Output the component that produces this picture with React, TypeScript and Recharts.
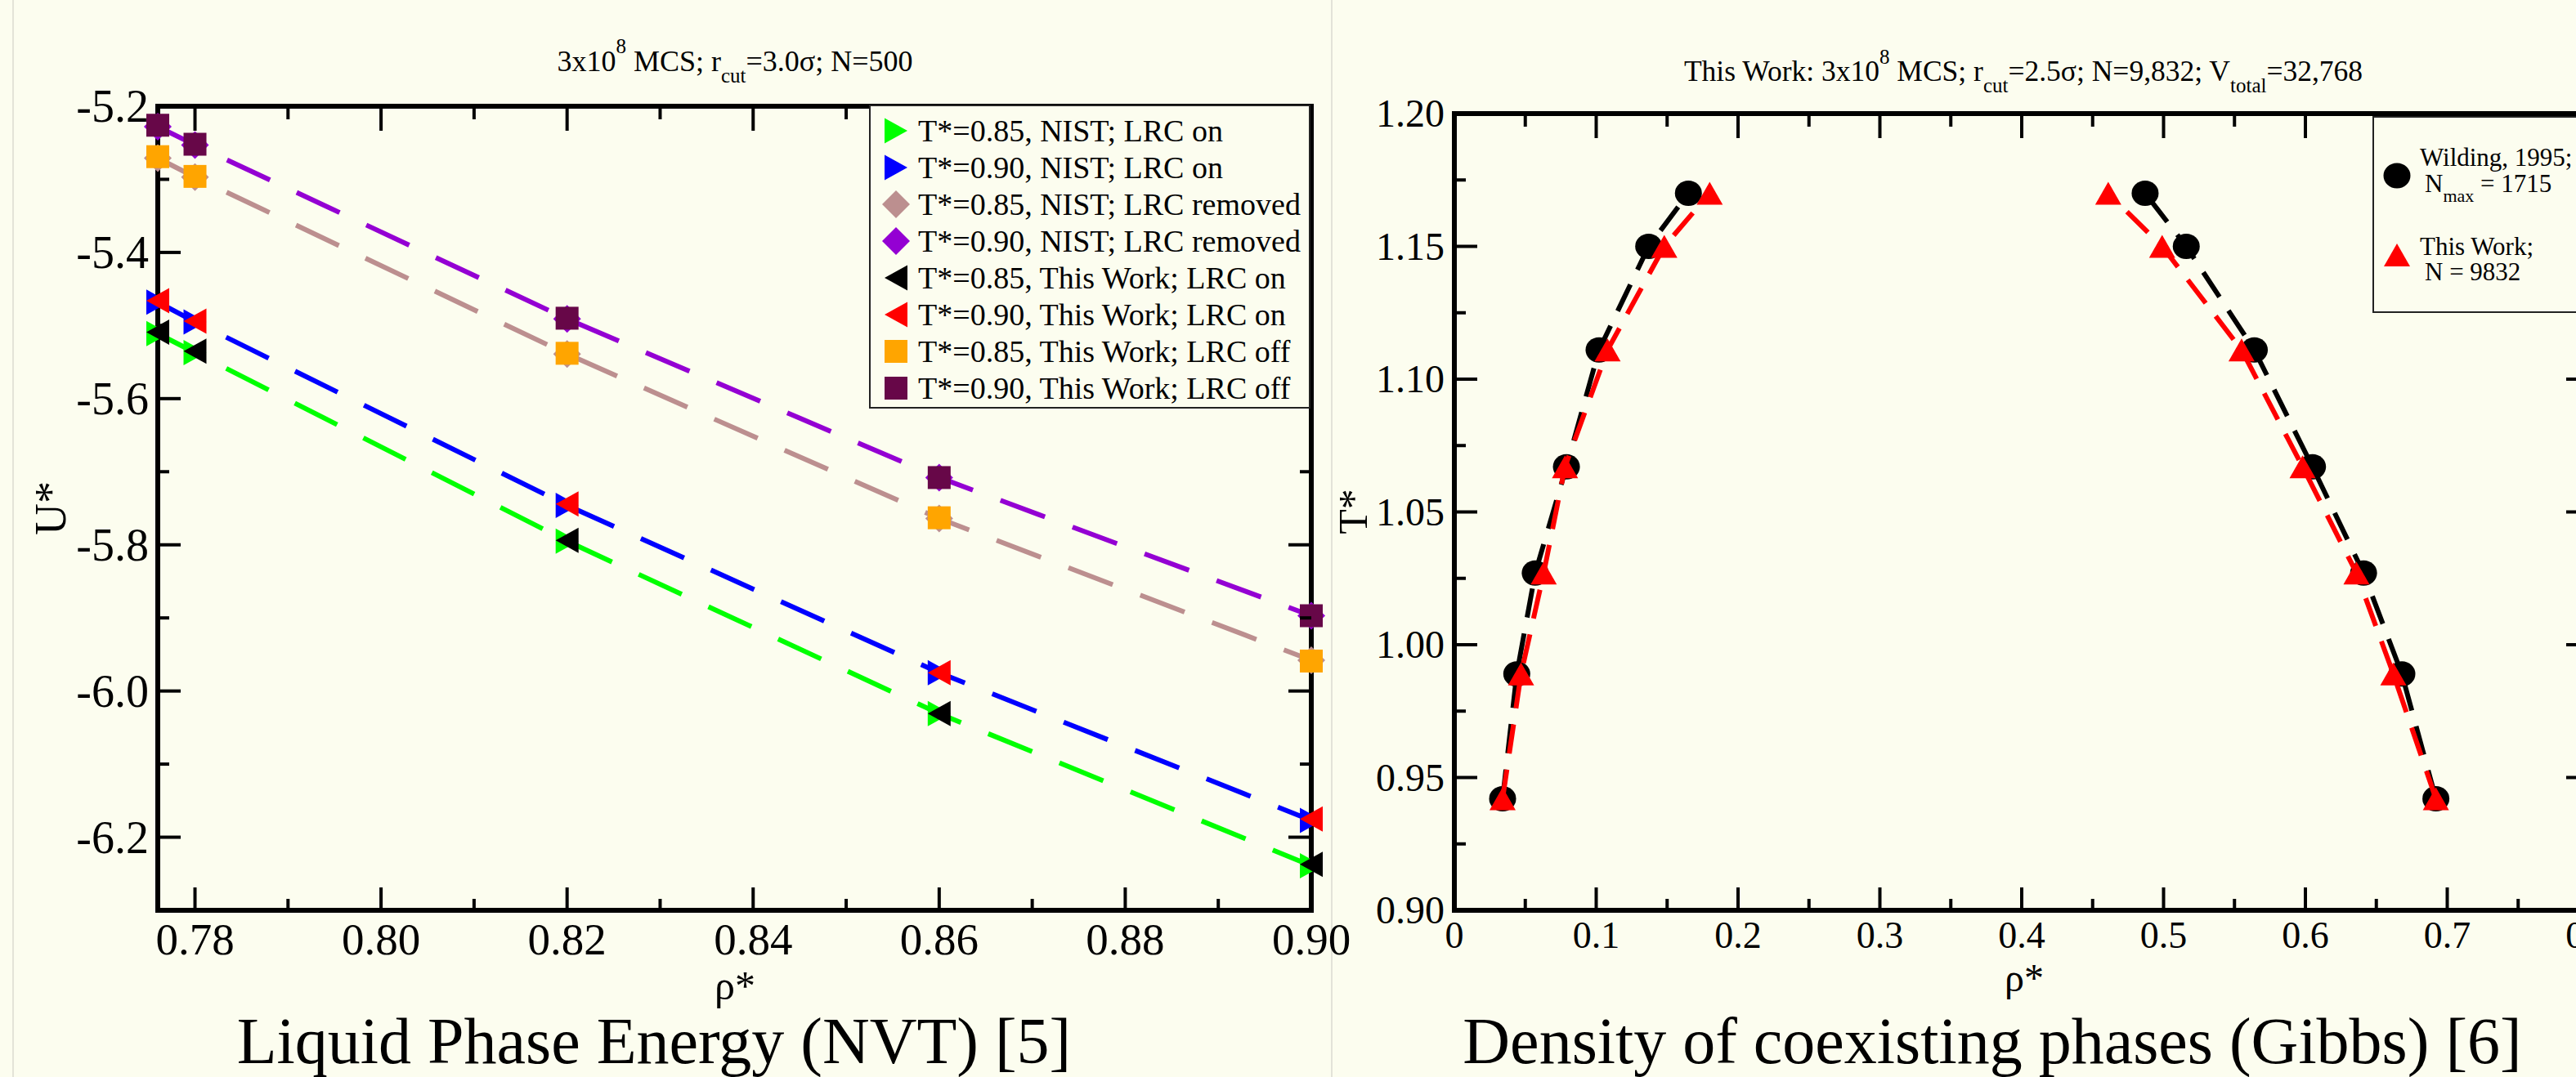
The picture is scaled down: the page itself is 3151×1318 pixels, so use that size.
import React from 'react';
import { ScatterChart, Scatter, XAxis, YAxis, ReferenceArea, Legend } from 'recharts';

const BG = '#fcfdef';
const FONT = '"Liberation Serif", "Times New Roman", serif';

// ---- Liquid phase energy (NVT) ----
const rhoNvt = [0.776, 0.78, 0.82, 0.86, 0.9];
const uNist085On = [-5.511, -5.537, -5.795, -6.031, -6.239];
const uNist090On = [-5.468, -5.495, -5.746, -5.975, -6.177];
const uNist085Removed = [-5.271, -5.297, -5.539, -5.764, -5.958];
const uNist090Removed = [-5.228, -5.253, -5.491, -5.708, -5.897];
const uWork085On = [-5.509, -5.535, -5.794, -6.031, -6.237];
const uWork090On = [-5.466, -5.494, -5.744, -5.975, -6.175];
const uWork085Off = [-5.269, -5.296, -5.538, -5.763, -5.959];
const uWork090Off = [-5.226, -5.252, -5.490, -5.708, -5.897];

const nvtXMajor = [0.78, 0.8, 0.82, 0.84, 0.86, 0.88, 0.9];
const nvtXMinor = [0.79, 0.81, 0.83, 0.85, 0.87, 0.89];
const nvtYMajor = [-6.2, -6.0, -5.8, -5.6, -5.4, -5.2];
const nvtYMinor = [-6.1, -5.9, -5.7, -5.5, -5.3];

// ---- Gibbs coexistence ----
const tGibbs = [0.942, 0.989, 1.027, 1.067, 1.111, 1.15, 1.17];
const rhoVapWilding = [0.034, 0.044, 0.057, 0.079, 0.102, 0.137, 0.165];
const rhoLiqWilding = [0.692, 0.668, 0.641, 0.605, 0.564, 0.516, 0.487];
const rhoVapWork = [0.034, 0.047, 0.063, 0.078, 0.108, 0.148, 0.18];
const rhoLiqWork = [0.692, 0.662, 0.636, 0.598, 0.555, 0.499, 0.461];

const gibbsXMajor = [0, 0.1, 0.2, 0.3, 0.4, 0.5, 0.6, 0.7, 0.8];
const gibbsXMinor = [0.05, 0.15, 0.25, 0.35, 0.45, 0.55, 0.65, 0.75];
const gibbsYMajor = [0.9, 0.95, 1.0, 1.05, 1.1, 1.15, 1.2];
const gibbsYMinor = [0.925, 0.975, 1.025, 1.075, 1.125, 1.175];

type Kind = 'triRight' | 'triLeft' | 'triUp' | 'diamond' | 'square' | 'circle';

const Marker = ({ kind, cx, cy, color }: { kind: Kind; cx: number; cy: number; color: string }) => {
  if (cx == null || cy == null) return <g />;
  switch (kind) {
    case 'triRight': {
      const w = 28, h = 31;
      return <polygon points={`${cx - w / 2},${cy - h / 2} ${cx + w / 2},${cy} ${cx - w / 2},${cy + h / 2}`} fill={color} />;
    }
    case 'triLeft': {
      const w = 28, h = 31;
      return <polygon points={`${cx + w / 2},${cy - h / 2} ${cx - w / 2},${cy} ${cx + w / 2},${cy + h / 2}`} fill={color} />;
    }
    case 'triUp': {
      const w = 32, h = 28;
      return <polygon points={`${cx - w / 2},${cy + h / 2} ${cx},${cy - h / 2} ${cx + w / 2},${cy + h / 2}`} fill={color} />;
    }
    case 'diamond': {
      const r = 17;
      return <polygon points={`${cx},${cy - r} ${cx + r},${cy} ${cx},${cy + r} ${cx - r},${cy}`} fill={color} />;
    }
    case 'square':
      return <rect x={cx - 14} y={cy - 14} width={28} height={28} fill={color} />;
    default:
      return <ellipse cx={cx} cy={cy} rx={16.5} ry={15.5} fill={color} />;
  }
};

const near = (list: number[], v: number) => list.some((m) => Math.abs(m - v) < 1e-9);

// ticks point inwards, mirrored on the opposite side of the frame
const makeXTick = (majors: number[], plotH: number, fontSize: number, gap: number, fmt: (v: number) => string) =>
  (props: any) => {
    const { x, y, payload } = props;
    const major = near(majors, payload.value);
    const len = major ? 28 : 14;
    return (
      <g>
        <line x1={x} y1={y} x2={x} y2={y - len} stroke="#000" strokeWidth={4} />
        <line x1={x} y1={y - plotH} x2={x} y2={y - plotH + len + 2} stroke="#000" strokeWidth={4} />
        {major && (
          <text x={x} y={y + gap} textAnchor="middle" fontSize={fontSize} fontFamily={FONT} fill="#000">
            {fmt(payload.value)}
          </text>
        )}
      </g>
    );
  };

const makeYTick = (majors: number[], plotW: number, fontSize: number, gap: number, fmt: (v: number) => string) =>
  (props: any) => {
    const { x, y, payload } = props;
    const major = near(majors, payload.value);
    const len = major ? 28 : 14;
    return (
      <g>
        <line x1={x} y1={y} x2={x + len} y2={y} stroke="#000" strokeWidth={4} />
        <line x1={x + plotW} y1={y} x2={x + plotW - len} y2={y} stroke="#000" strokeWidth={4} />
        {major && (
          <text x={x - gap} y={y + fontSize * 0.34} textAnchor="end" fontSize={fontSize} fontFamily={FONT} fill="#000">
            {fmt(payload.value)}
          </text>
        )}
      </g>
    );
  };

const nvtSeries: { name: string; ys: number[]; kind: Kind; color: string; dashed: boolean }[] = [
  { name: 'T*=0.85, NIST; LRC on', ys: uNist085On, kind: 'triRight', color: '#00ff00', dashed: true },
  { name: 'T*=0.90, NIST; LRC on', ys: uNist090On, kind: 'triRight', color: '#0000ff', dashed: true },
  { name: 'T*=0.85, NIST; LRC removed', ys: uNist085Removed, kind: 'diamond', color: '#bc8f8f', dashed: true },
  { name: 'T*=0.90, NIST; LRC removed', ys: uNist090Removed, kind: 'diamond', color: '#9400d3', dashed: true },
  { name: 'T*=0.85, This Work; LRC on', ys: uWork085On, kind: 'triLeft', color: '#000000', dashed: false },
  { name: 'T*=0.90, This Work; LRC on', ys: uWork090On, kind: 'triLeft', color: '#ff0000', dashed: false },
  { name: 'T*=0.85, This Work; LRC off', ys: uWork085Off, kind: 'square', color: '#ffa500', dashed: false },
  { name: 'T*=0.90, This Work; LRC off', ys: uWork090Off, kind: 'square', color: '#670748', dashed: false },
];

const gibbsSeries: { name: string; xs: number[]; kind: Kind; color: string }[] = [
  { name: 'Wilding vapour', xs: rhoVapWilding, kind: 'circle', color: '#000000' },
  { name: 'Wilding liquid', xs: rhoLiqWilding, kind: 'circle', color: '#000000' },
  { name: 'This Work vapour', xs: rhoVapWork, kind: 'triUp', color: '#ff0000' },
  { name: 'This Work liquid', xs: rhoLiqWork, kind: 'triUp', color: '#ff0000' },
];

// left chart geometry
const L_W = 1700, L_H = 1318, L_TOP = 130, L_YW = 193, L_XH = 204, L_RIGHT = 96;
const L_PW = L_W - L_YW - L_RIGHT;
const L_PH = L_H - L_TOP - L_XH;

// right chart geometry (runs past the page edge, like the slide)
const R_LEFT = 1640, R_W = 1557, R_H = 1318, R_TOP = 139, R_YW = 139, R_XH = 204, R_RIGHT = 30;
const R_PW = R_W - R_YW - R_RIGHT;
const R_PH = R_H - R_TOP - R_XH;

const NvtLegend = () => (
  <svg width={540} height={372} style={{ display: 'block' }}>
    <rect x={1} y={1} width={538} height={370} fill={BG} stroke="#222" strokeWidth={2} />
    {nvtSeries.map((s, i) => (
      <g key={s.name}>
        <Marker kind={s.kind} cx={33} cy={32 + 45 * i} color={s.color} />
        <text x={60} y={32 + 45 * i + 13} fontSize={38} fontFamily={FONT} fill="#000">{s.name}</text>
      </g>
    ))}
  </svg>
);

const GibbsLegend = () => (
  <svg width={265} height={241} style={{ display: 'block' }}>
    <rect x={1} y={1} width={270} height={239} fill={BG} stroke="#222" strokeWidth={2} />
    <Marker kind="circle" cx={30} cy={73} color="#000" />
    <text x={58} y={61} fontSize={31} fontFamily={FONT} fill="#000">Wilding, 1995;</text>
    <text x={64} y={93} fontSize={31} fontFamily={FONT} fill="#000">
      N<tspan dy={12} fontSize={22}>max</tspan><tspan dy={-12}> = 1715</tspan>
    </text>
    <Marker kind="triUp" cx={30} cy={170} color="#ff0000" />
    <text x={58} y={170} fontSize={31} fontFamily={FONT} fill="#000">This Work;</text>
    <text x={64} y={201} fontSize={31} fontFamily={FONT} fill="#000">N = 9832</text>
  </svg>
);

const NvtChart = () => (
  <ScatterChart width={L_W} height={L_H} margin={{ top: L_TOP, right: L_RIGHT, bottom: 0, left: 0 }}>
    <XAxis
      type="number" dataKey="x" domain={[0.776, 0.9]} ticks={[...nvtXMajor, ...nvtXMinor].sort()}
      interval={0} height={L_XH} axisLine={false} tickLine={false} tickSize={0} tickMargin={0}
      tick={makeXTick(nvtXMajor, L_PH, 55, 54, (v) => v.toFixed(2))}
    />
    <YAxis
      type="number" dataKey="y" domain={[-6.3, -5.2]} ticks={[...nvtYMajor, ...nvtYMinor]}
      interval={0} width={L_YW} axisLine={false} tickLine={false} tickSize={0} tickMargin={0}
      tick={makeYTick(nvtYMajor, L_PW, 56, 11, (v) => v.toFixed(1))}
    />
    {nvtSeries.map((s) => (
      <Scatter
        key={s.name}
        name={s.name}
        data={rhoNvt.map((x, i) => ({ x, y: s.ys[i] }))}
        line={s.dashed ? { stroke: s.color, strokeWidth: 6, strokeDasharray: '58 36' } : false}
        lineType="joint"
        shape={(p: any) => <Marker kind={s.kind} cx={p.cx} cy={p.cy} color={s.color} />}
        isAnimationActive={false}
      />
    ))}
    <ReferenceArea x1={0.776} x2={0.9} y1={-6.3} y2={-5.2} fill="none" stroke="#000" strokeWidth={6} ifOverflow="visible" />
    <Legend
      layout="vertical" align="center" verticalAlign="middle"
      wrapperStyle={{ left: 1063, top: 128, width: 540, height: 372 }}
      content={() => <NvtLegend />}
    />
  </ScatterChart>
);

const GibbsChart = () => (
  <ScatterChart width={R_W} height={R_H} margin={{ top: R_TOP, right: R_RIGHT, bottom: 0, left: 0 }}>
    <XAxis
      type="number" dataKey="x" domain={[0, 0.8]} ticks={[...gibbsXMajor, ...gibbsXMinor]}
      interval={0} height={R_XH} axisLine={false} tickLine={false} tickSize={0} tickMargin={0}
      tick={makeXTick(gibbsXMajor, R_PH, 46, 46, (v) => (v === 0 ? '0' : v.toFixed(1)))}
    />
    <YAxis
      type="number" dataKey="y" domain={[0.9, 1.2]} ticks={[...gibbsYMajor, ...gibbsYMinor]}
      interval={0} width={R_YW} axisLine={false} tickLine={false} tickSize={0} tickMargin={0}
      tick={makeYTick(gibbsYMajor, R_PW, 48, 12, (v) => v.toFixed(2))}
    />
    {gibbsSeries.map((s) => (
      <Scatter
        key={s.name}
        name={s.name}
        data={s.xs.map((x, i) => ({ x, y: tGibbs[i] }))}
        line={{ stroke: s.color, strokeWidth: 6, strokeDasharray: '36 20' }}
        lineType="joint"
        shape={(p: any) => <Marker kind={s.kind} cx={p.cx} cy={p.cy} color={s.color} />}
        isAnimationActive={false}
      />
    ))}
    <ReferenceArea x1={0} x2={0.8} y1={0.9} y2={1.2} fill="none" stroke="#000" strokeWidth={6} ifOverflow="visible" />
    <Legend
      layout="vertical" align="center" verticalAlign="middle"
      wrapperStyle={{ left: 1262, top: 142, width: 265, height: 241 }}
      content={() => <GibbsLegend />}
    />
  </ScatterChart>
);

const Texts = () => (
  <svg width={3151} height={1318} style={{ position: 'absolute', left: 0, top: 0 }}>
    <line x1={16} y1={0} x2={16} y2={1318} stroke="#e3e3d8" strokeWidth={2} />
    <line x1={1629} y1={0} x2={1629} y2={1318} stroke="#e3e3d8" strokeWidth={2} />
    <g fontFamily={FONT} fill="#000">
      <text x={899} y={87} textAnchor="middle" fontSize={36}>
        3x10<tspan dy={-22} fontSize={25}>8</tspan>
        <tspan dy={22}> MCS; r</tspan>
        <tspan dy={14} fontSize={25}>cut</tspan>
        <tspan dy={-14}>=3.0σ; N=500</tspan>
      </text>
      <text x={2475} y={99} textAnchor="middle" fontSize={35.5}>
        This Work: 3x10<tspan dy={-21} fontSize={25}>8</tspan>
        <tspan dy={21}> MCS; r</tspan>
        <tspan dy={14} fontSize={25}>cut</tspan>
        <tspan dy={-14}>=2.5σ; N=9,832; V</tspan>
        <tspan dy={14} fontSize={25}>total</tspan>
        <tspan dy={-14}>=32,768</tspan>
      </text>
      <text x={899} y={1223} textAnchor="middle" fontSize={50}>ρ*</text>
      <text x={2476} y={1213} textAnchor="middle" fontSize={48}>ρ*</text>
      <text transform="translate(80,622) rotate(-90)" textAnchor="middle" fontSize={54}>U*</text>
      <text transform="translate(1672,626) rotate(-90)" textAnchor="middle" fontSize={50}>T*</text>
      <text x={800} y={1301} textAnchor="middle" fontSize={80}>Liquid Phase Energy (NVT) [5]</text>
      <text x={2437} y={1301} textAnchor="middle" fontSize={80}>Density of coexisting phases (Gibbs) [6]</text>
    </g>
  </svg>
);

export default function App() {
  return (
    <div style={{ position: 'fixed', left: 0, top: 0, width: 3151, height: 1318, overflow: 'hidden', background: BG }}>
      <Texts />
      <div style={{ position: 'absolute', left: 0, top: 0 }}>
        <NvtChart />
      </div>
      <div style={{ position: 'absolute', left: R_LEFT, top: 0 }}>
        <GibbsChart />
      </div>
    </div>
  );
}
